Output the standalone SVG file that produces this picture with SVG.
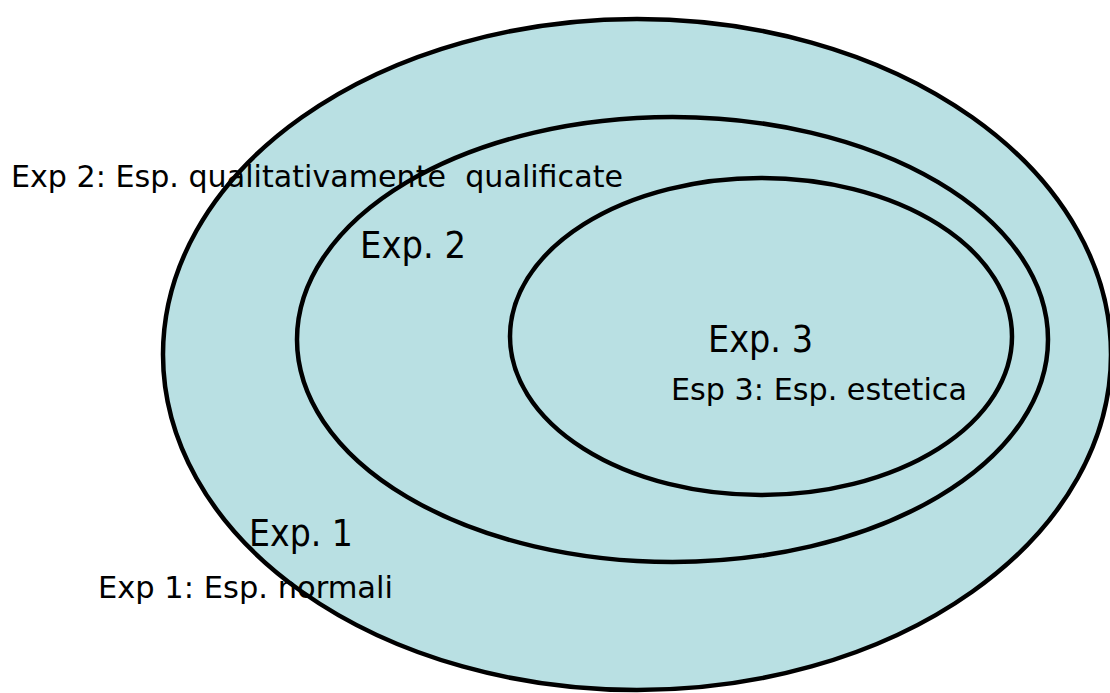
<svg xmlns="http://www.w3.org/2000/svg" width="1110" height="693" viewBox="0 0 1110 693">
<style>
.ring{fill:#b9e0e3;stroke:#000;stroke-width:4.5}
.big{font-family:"DejaVu Sans","Liberation Sans",sans-serif;font-size:38px;fill:#000}
.small{font-family:"DejaVu Sans","Liberation Sans",sans-serif;font-size:31px;fill:#000;white-space:pre}
</style>
<rect width="1110" height="693" fill="#fff"/>
<g id="exp1">
<ellipse class="ring" cx="637" cy="354.5" rx="474" ry="335.5"/>
</g>
<g id="exp2">
<ellipse class="ring" cx="672.5" cy="339.5" rx="375.5" ry="222.5"/>
</g>
<g id="exp3">
<ellipse class="ring" cx="761" cy="336.5" rx="251" ry="158.5"/>
</g>
<g id="connectors"/>
<g id="labels">
<text class="small" x="11" y="187" textLength="612" lengthAdjust="spacingAndGlyphs" xml:space="preserve">Exp 2: Esp. qualitativamente  qualificate</text>
<text class="big" x="360" y="258" textLength="106" lengthAdjust="spacingAndGlyphs">Exp. 2</text>
<text class="big" x="708" y="352" textLength="105" lengthAdjust="spacingAndGlyphs">Exp. 3</text>
<text class="small" x="671" y="400" textLength="296" lengthAdjust="spacingAndGlyphs">Esp 3: Esp. estetica</text>
<text class="big" x="249" y="546" textLength="104" lengthAdjust="spacingAndGlyphs">Exp. 1</text>
<text class="small" x="98" y="598" textLength="295" lengthAdjust="spacingAndGlyphs">Exp 1: Esp. normali</text>
</g>
</svg>
